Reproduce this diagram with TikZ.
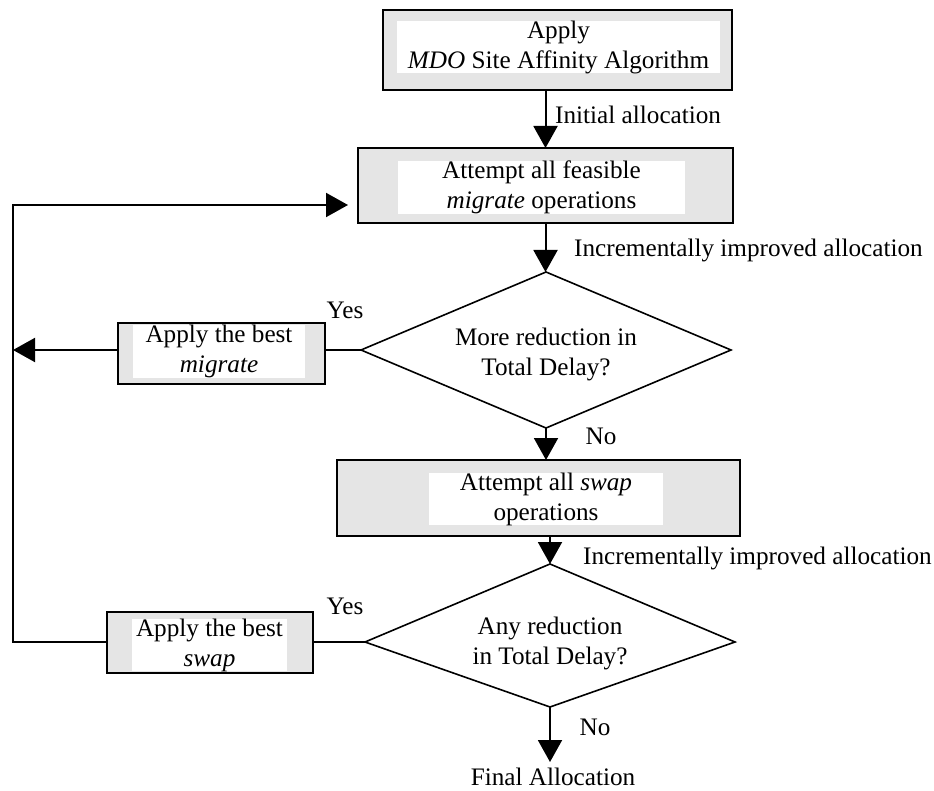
\documentclass[tikz,border=0pt]{standalone}
\usepackage{fontspec}
\setmainfont{Liberation Serif}
\usetikzlibrary{shapes.geometric,arrows.meta,calc}
\begin{document}
\begin{tikzpicture}[x=1pt,y=-1pt,
  font=\fontsize{25.2}{30}\selectfont,
  outerbox/.style={draw=black, line width=2pt, fill=gray!20, inner sep=0pt, outer sep=0pt},
  innerbox/.style={fill=white, inner sep=0pt, align=center},
  decision/.style={diamond, draw=black, line width=1.6pt, inner sep=0pt, outer sep=0pt,
                   aspect=2.4},
  decisionedge/.style={draw=black, line width=1.6pt, line join=miter},
  flow/.style={line width=2pt, line join=miter},
  arr/.style={flow, -{Triangle[width=24pt,length=22pt]}},
  lbl/.style={inner sep=0pt, align=center}]

\useasboundingbox (0,0) rectangle (934,791);

% process boxes: grey frame with a white text panel
\node[outerbox, minimum width=349pt, minimum height=80pt] (b1) at (557.5,50) {};
\node[innerbox, minimum width=323pt, minimum height=49pt] (b1t) at (558.5,47)
  {Apply\\\textit{MDO} Site Affinity Algorithm};

\node[outerbox, minimum width=375pt, minimum height=75pt] (b2) at (545.5,185.5) {};
\node[innerbox, minimum width=287pt, minimum height=45pt] (b2t) at (541.5,187.5)
  {Attempt all feasible\\\textit{migrate} operations};

\node[outerbox, minimum width=207pt, minimum height=61pt] (b3) at (221.5,353.5) {};
\node[innerbox, minimum width=172pt, minimum height=43pt] (b3t) at (219,351.5)
  {Apply the best\\\textit{migrate}};

\node[outerbox, minimum width=403pt, minimum height=76pt] (b5) at (538.5,498) {};
\node[innerbox, minimum width=234pt, minimum height=48pt] (b5t) at (546,499)
  {Attempt all \textit{swap}\\operations};

\node[outerbox, minimum width=206pt, minimum height=61pt] (b4) at (210,642.5) {};
\node[innerbox, minimum width=155pt, minimum height=50pt] (b4t) at (209.5,645)
  {Apply the best\\\textit{swap}};

% first decision
\node[decision, minimum width=370pt, minimum height=156pt] (d1) at (546,350) {};
\node[lbl] (d1t) at (546,354) {More reduction in\\Total Delay?};

% second decision: its side corners sit below the mid-height
\coordinate (d2n) at (550,564);
\coordinate (d2e) at (735,642);
\coordinate (d2s) at (550,707);
\coordinate (d2w) at (365,642);
\draw[decisionedge] (d2n) -- (d2e) -- (d2s) -- (d2w) -- cycle;
\node[lbl] (d2t) at (550,643) {Any reduction\\in Total Delay?};

% end label and the tip of the arrow above it
\node[lbl] (fin) at (553,777) {Final Allocation};
\coordinate (finTip) at (550,762);

% loop-back rail on the left
\coordinate (railM) at (13,350);
\coordinate (railS) at (13,642);
\coordinate (railT) at (13,205);
\coordinate (ret) at (348,205);

% main flow
\draw[arr] (b1.south -| b2.north) -- (b2.north);
\draw[arr] (b2.south) -- (b2.south |- d1.north);
\draw[arr] (d1.south) -- (d1.south |- b5.north);
\draw[arr] (b5.south -| d2n) -- (d2n);
\draw[arr] (d2s) -- (finTip);

% yes branches
\draw[flow] (d1.west) -- (b3.east |- d1.west);
\draw[arr] (b3.west |- d1.west) -- (railM);
\draw[flow] (d2w) -- (b4.east |- d2w);
\draw[arr] (b4.west |- d2w) -- (railS) -- (railT) -- (ret);

% edge labels
\node[lbl, anchor=west] (l1) at (555,115) {Initial allocation};
\node[lbl, anchor=west] (l2) at (574,250) {Incrementally improved allocation};
\node[lbl] (y1) at (345,310) {Yes};
\node[lbl] (n1) at (601,436) {No};
\node[lbl, anchor=west] (l3) at (583,558) {Incrementally improved allocation};
\node[lbl] (y2) at (345,606) {Yes};
\node[lbl] (n2) at (595,727) {No};
\end{tikzpicture}
\end{document}
